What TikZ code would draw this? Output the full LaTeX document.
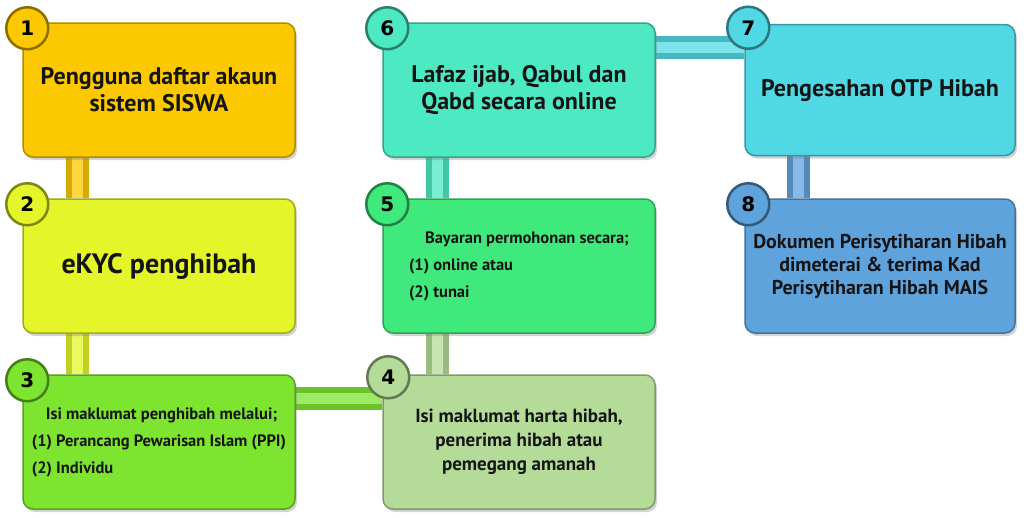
\documentclass[tikz,border=0pt]{standalone}
\usepackage{fontspec}
\setmainfont{PT Sans}
\newfontfamily\numfont{DejaVu Sans}
\usetikzlibrary{positioning,shadows,backgrounds}

\definecolor{c1}{HTML}{FCC800}
\definecolor{c2}{HTML}{E4F52A}
\definecolor{c3}{HTML}{7DE52F}
\definecolor{c4}{HTML}{B4DC98}
\definecolor{c5}{HTML}{3FE97C}
\definecolor{c6}{HTML}{4CE9C3}
\definecolor{c7}{HTML}{50D9E5}
\definecolor{c8}{HTML}{5FA3DD}

\tikzset{
    stepbox/.style = {rectangle,
                    rounded corners=10pt,
                    fill=#1,
                    draw=#1!70!black,
                    line width=1.5pt,
                    text=black!92,
                    inner sep=0pt,
                    minimum width=272pt,
                    minimum height=134pt,
                    align=center,
                    font=\bfseries\fontsize{24}{27}\selectfont,
                    drop shadow={shadow xshift=2pt,shadow yshift=-3pt,opacity=0.35}},
    small/.style =  {font=\bfseries\fontsize{16.5}{27}\selectfont,
                    align=left},
    badge/.style =  {circle,
                    fill=#1,
                    draw=#1!55!black,
                    line width=2.5pt,
                    text=black,
                    minimum size=42pt,
                    inner sep=0pt,
                    font=\numfont\bfseries\fontsize{20}{20}\selectfont},
    pipe/.style =   {draw=#1!85!black,
                    double=#1!75!white,
                    double distance=11pt,
                    line width=6pt},
    -,
    node distance=176pt}

\begin{document}
\begin{tikzpicture}[x=1pt,y=1pt]
\useasboundingbox (0,0) rectangle (1024,-517);
                    \node[stepbox=c1]  (box1) at (159,-90)     {Pengguna daftar akaun\\sistem SISWA};
                    \node[stepbox=c2,font=\bfseries\fontsize{28}{30}\selectfont]  (box2) [below of=box1]  {eKYC penghibah};
                    \node[stepbox=c3,small]  (box3) [below of=box2]  {\hspace*{14pt}Isi maklumat penghibah melalui;\\(1) Perancang Pewarisan Islam (PPI)\\(2) Individu};
                    \node[stepbox=c4,font=\bfseries\fontsize{19}{24}\selectfont]  (box4) [right of=box3,node distance=360pt]  {Isi maklumat harta hibah,\\penerima hibah atau\\pemegang amanah};
                    \node[stepbox=c5,small]  (box5) [above of=box4]  {\hspace*{16pt}Bayaran permohonan secara;\\(1) online atau\\(2) tunai};
                    \node[stepbox=c6]  (box6) [above of=box5]  {Lafaz ijab, Qabul dan\\Qabd secara online};
                    \node[stepbox=c7,minimum width=270pt,minimum height=131pt]  (box7) [right of=box6,node distance=361pt]  {Pengesahan OTP Hibah};
                    \node[stepbox=c8,minimum width=270pt,font=\bfseries\fontsize{20}{23}\selectfont]  (box8) [below of=box7]  {Dokumen Perisytiharan Hibah\\dimeterai \& terima Kad\\Perisytiharan Hibah MAIS};

                    % numbered badges on the corners
                    \node[badge=c1]  (n1) at ([shift={(5pt,-6pt)}]box1.north west)  {1};
                    \node[badge=c2]  (n2) at ([shift={(5pt,-6pt)}]box2.north west)  {2};
                    \node[badge=c3]  (n3) at ([shift={(5pt,-6pt)}]box3.north west)  {3};
                    \node[badge=c4]  (n4) at ([shift={(6pt,-3pt)}]box4.north west)  {4};
                    \node[badge=c5]  (n5) at ([shift={(5pt,-6pt)}]box5.north west)  {5};
                    \node[badge=c6]  (n6) at ([shift={(5pt,-6pt)}]box6.north west)  {6};
                    \node[badge=c7]  (n7) at ([shift={(4pt,-4pt)}]box7.north west)  {7};
                    \node[badge=c8]  (n8) at ([shift={(4pt,-6pt)}]box8.north west)  {8};

                    \coordinate (c34) at ([yshift=-24pt]box3.north east);
                    \coordinate (c67) at ([yshift=-25pt]box6.north east);

                    \begin{pgfonlayer}{background}
                    \draw[pipe=c1]  ([xshift=55pt]box1.south west) -- ([xshift=55pt]box2.north west);
                    \draw[pipe=c2]  ([xshift=55pt]box2.south west) -- ([xshift=55pt]box3.north west);
                    \draw[pipe=c3]  (c34) -- (c34 -| box4.west);
                    \draw[pipe=c4]  ([xshift=55pt]box4.north west) -- ([xshift=55pt]box5.south west);
                    \draw[pipe=c6]  ([xshift=55pt]box5.north west) -- ([xshift=55pt]box6.south west);
                    \draw[pipe=c7]  (c67) -- (c67 -| box7.west);
                    \draw[pipe=c8]  ([xshift=54pt]box7.south west) -- ([xshift=54pt]box8.north west);
                    \end{pgfonlayer}
\end{tikzpicture}
\end{document}
